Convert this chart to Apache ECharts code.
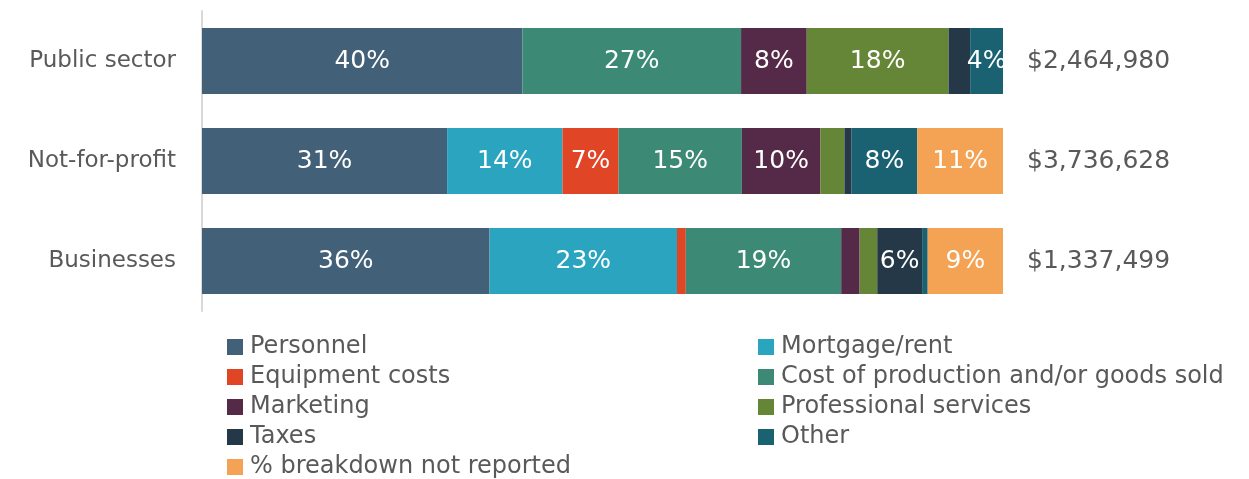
<!DOCTYPE html>
<html lang="en">
<head>
  <meta charset="UTF-8">
  <title>Expense breakdown</title>
  <style>
    html, body { margin: 0; padding: 0; background: #fff; }
    #main { width: 1249px; height: 479px; }
  </style>
</head>
<body>
  <div id="main"></div>
  <script src="https://cdn.jsdelivr.net/npm/echarts@6/dist/echarts.min.js"></script>
  <script>
    // sectors, top to bottom
    const sectors = ['Public sector', 'Not-for-profit', 'Businesses']
    const totals = ['$2,464,980', '$3,736,628', '$1,337,499']

    // share of spending (%) per sector
    const personnel    = [40.0, 30.6, 35.9]
    const mortgage     = [0,    14.4, 23.4]
    const equipment    = [0,    7.0,  1.1]
    const production   = [27.3, 15.4, 19.4]
    const marketing    = [8.2,  9.8,  2.3]
    const professional = [17.7, 3.0,  2.2]
    const taxes        = [2.7,  0.9,  5.6]
    const other        = [4.1,  8.2,  0.7]
    const notReported  = [0,    10.7, 9.4]

    const seriesDefs = [
      ['Personnel', personnel, '#426077'],
      ['Mortgage/rent', mortgage, '#2AA4BF'],
      ['Equipment costs', equipment, '#E04526'],
      ['Cost of production and/or goods sold', production, '#3C8A76'],
      ['Marketing', marketing, '#552A48'],
      ['Professional services', professional, '#658637'],
      ['Taxes', taxes, '#253847'],
      ['Other', other, '#1A6271'],
      ['% breakdown not reported', notReported, '#F4A253']
    ]

    const font = 'DejaVu Sans'
    const grey = '#595959'

    const myChart = echarts.init(document.getElementById('main'))

    const legendBase = {
      orient: 'vertical',
      top: 330,
      height: 150,
      itemWidth: 16,
      itemHeight: 16,
      itemGap: 6,
      icon: 'rect',
      textStyle: { fontFamily: font, fontSize: 24, lineHeight: 24, color: grey, padding: [0, 0, 0, 2] }
    }

    const option = {
      animation: false,
      textStyle: { fontFamily: font },
      grid: { left: 202, right: 246, top: 11, height: 300 },
      legend: [
        Object.assign({}, legendBase, {
          left: 222,
          data: ['Personnel', 'Equipment costs', 'Marketing', 'Taxes', '% breakdown not reported']
        }),
        Object.assign({}, legendBase, {
          left: 753,
          data: ['Mortgage/rent', 'Cost of production and/or goods sold', 'Professional services', 'Other']
        })
      ],
      xAxis: { type: 'value', min: 0, max: 100, show: false },
      yAxis: [
        {
          type: 'category',
          data: sectors,
          inverse: true,
          axisLine: { lineStyle: { color: '#d9d9d9', width: 2 } },
          axisTick: { show: false },
          axisLabel: { fontFamily: font, fontSize: 23, color: grey, margin: 26 }
        },
        {
          type: 'category',
          data: totals,
          inverse: true,
          position: 'right',
          axisLine: { show: false },
          axisTick: { show: false },
          axisLabel: { fontFamily: font, fontSize: 25, color: grey, margin: 24 }
        }
      ],
      series: seriesDefs.map(function (d) {
        return {
          name: d[0],
          type: 'bar',
          stack: 'total',
          barWidth: 66,
          data: d[1],
          itemStyle: { color: d[2] },
          label: {
            show: true,
            position: 'inside',
            color: '#fff',
            fontFamily: font,
            fontSize: 25,
            formatter: function (p) {
              return p.value >= 3.5 ? Math.round(p.value) + '%' : ''
            }
          }
        }
      })
    }

    myChart.setOption(option)
  </script>
</body>
</html>
